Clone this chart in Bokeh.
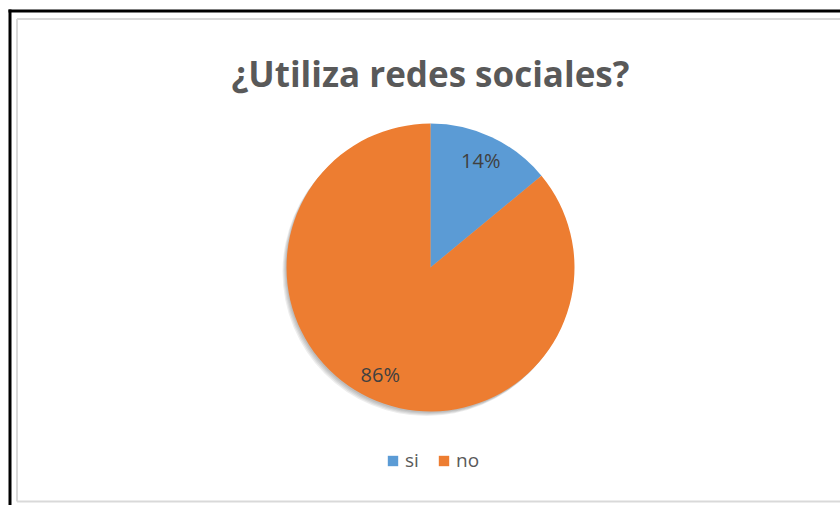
import math
from bokeh.plotting import figure
from bokeh.models import Range1d, Legend, LegendItem, ColumnDataSource
from bokeh.core.properties import value
from bokeh.embed import file_html
from bokeh.resources import INLINE

title_text = "¿Utiliza redes sociales?"
categories = ["si", "no"]
shares = [14, 86]
colors = ["#5B9BD5", "#ED7D31"]

W, H = 840, 505
p = figure(width=W, height=H, output_backend="svg", toolbar_location=None,
           x_range=Range1d(0, W), y_range=Range1d(0, H), min_border=0)
p.axis.visible = False
p.grid.visible = False
p.outline_line_color = None
p.background_fill_color = "white"
p.border_fill_color = "white"

# chart frames (outer black, inner light grey)
p.segment(x0=[9.5, 8], y0=[-5, H - 10.5], x1=[9.5, W + 5], y1=[H - 9, H - 10.5],
          line_color="black", line_width=3)
p.segment(x0=[16.5, 16.5, 16.5], y0=[4, H - 18.5, 4],
          x1=[16.5, W + 5, W + 5], y1=[H - 18.5, H - 18.5, 4],
          line_color="#d9d9d9", line_width=2)

cx, cy, R = 430, 238, 144
total = sum(shares)
starts, ends = [], []
a = math.pi / 2
for s in shares:
    starts.append(a)
    a -= 2 * math.pi * s / total
    ends.append(a)

# soft shadow
for dx, dy in [(-1, -1.5), (-2, -2.5), (-3, -3.5), (-4, -4.5)]:
    p.circle(x=[cx + dx], y=[cy + dy], radius=R, fill_color="black",
             fill_alpha=0.07, line_color=None)

src = ColumnDataSource(dict(cat=categories, share=shares, color=colors,
                            start=starts, end=ends))
r = p.wedge(x=cx, y=cy, radius=R, start_angle="start", end_angle="end",
            direction="clock", fill_color="color", line_color=None, source=src)

lx, ly, lt = [], [], []
for s, st, en in zip(shares, starts, ends):
    mid = (st + en) / 2
    lx.append(cx + 0.82 * R * math.cos(mid))
    ly.append(cy + 0.82 * R * math.sin(mid))
    lt.append(f"{round(100 * s / total)}%")
p.text(x=lx, y=ly, text=lt, text_font=value("Open Sans"), text_font_size="20px",
       text_color="#404040", text_align="center", text_baseline="middle")

p.text(x=[cx], y=[432], text=[title_text], text_font=value("Open Sans"),
       text_font_style="bold", text_font_size="35px", text_color="#595959",
       text_align="center", text_baseline="alphabetic")

legend = Legend(items=[LegendItem(label=c, renderers=[r], index=i) for i, c in enumerate(categories)],
                orientation="horizontal", location=(386, 32), padding=0, margin=0,
                spacing=12, label_standoff=6, glyph_width=13, glyph_height=13,
                label_text_font="Open Sans", label_text_font_size="19px",
                label_text_color="#595959", border_line_color=None,
                background_fill_alpha=0)
p.add_layout(legend)

open("out.html", "w").write(file_html(p, INLINE))
